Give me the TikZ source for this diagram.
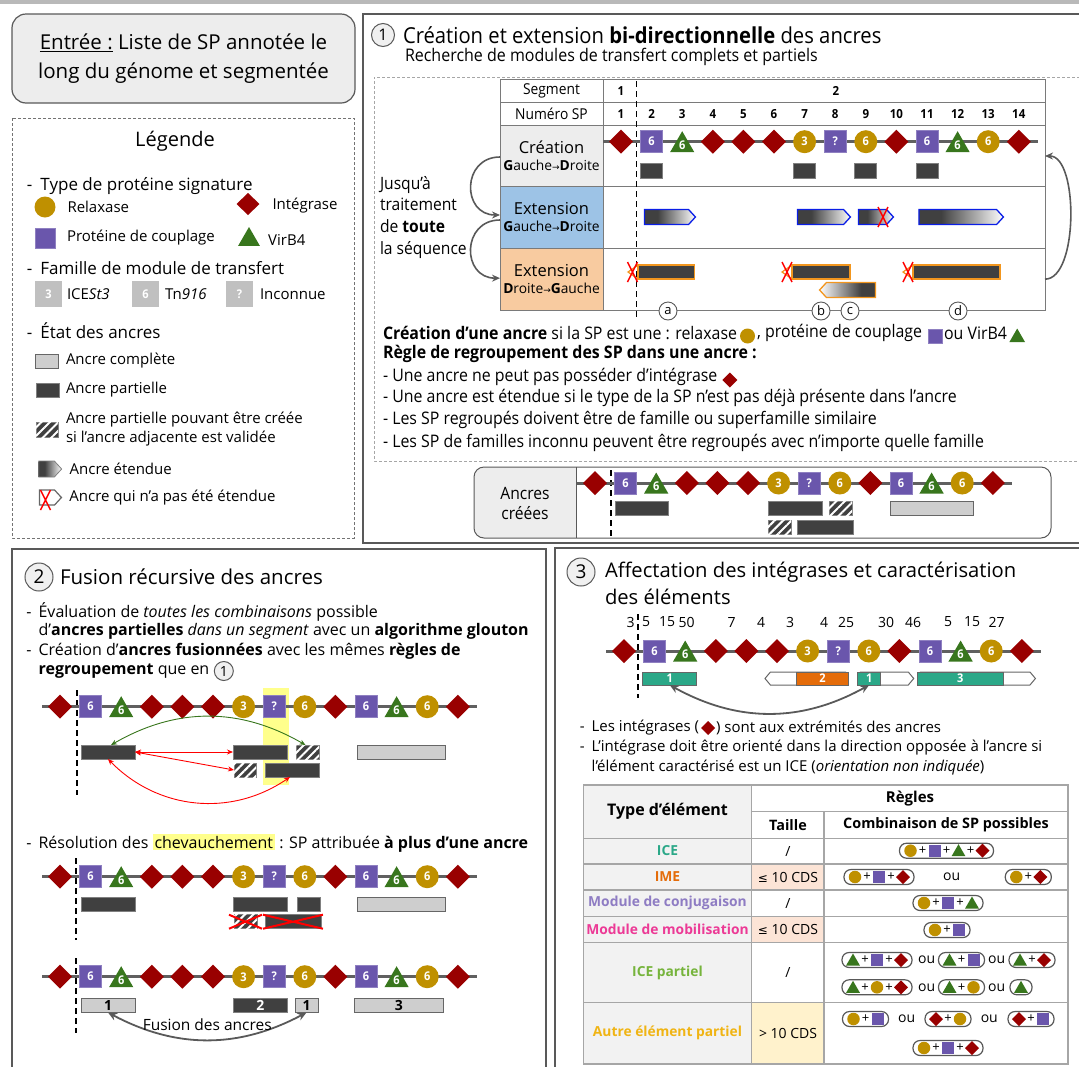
\documentclass[tikz,border=0pt]{standalone}
\usepackage{fontspec}
\setmainfont{Open Sans}
\newfontfamily\condf[FakeStretch=0.92]{Open Sans}
\newfontfamily\dvu{DejaVu Sans}
\usepackage{tikz}
\usetikzlibrary{positioning,arrows.meta,shapes.geometric,shapes.symbols,patterns.meta}

\definecolor{integred}{RGB}{153,0,0}
\definecolor{relaxgold}{RGB}{191,144,0}
\definecolor{couplpurple}{RGB}{106,86,172}
\definecolor{virbgreen}{RGB}{56,118,29}
\definecolor{anchdark}{RGB}{64,64,64}
\definecolor{anchlight}{RGB}{206,206,206}
\definecolor{framegray}{RGB}{89,89,89}
\definecolor{cellgray}{RGB}{237,237,237}
\definecolor{cellblue}{RGB}{157,195,230}
\definecolor{cellpeach}{RGB}{248,203,160}
\definecolor{extblue}{RGB}{10,30,230}
\definecolor{extorange}{RGB}{242,150,30}
\definecolor{hlyellow}{RGB}{255,255,140}
\definecolor{iceteal}{RGB}{43,168,136}
\definecolor{imeorange}{RGB}{228,108,10}
\definecolor{conjpurple}{RGB}{142,124,195}
\definecolor{mobpink}{RGB}{236,58,150}
\definecolor{partgreen}{RGB}{118,180,60}
\definecolor{autregold}{RGB}{240,180,20}
\definecolor{sizepeach}{RGB}{252,228,214}
\definecolor{sizeyellow}{RGB}{255,242,204}
\definecolor{famgray}{RGB}{192,192,192}
\definecolor{tabgray}{RGB}{242,242,242}

\pgfdeclarehorizontalshading{extshade}{100bp}{color(0bp)=(anchdark); color(38bp)=(anchdark); color(75bp)=(white); color(100bp)=(white)}
\pgfdeclarehorizontalshading{extshaderev}{100bp}{color(0bp)=(white); color(25bp)=(white); color(62bp)=(anchdark); color(100bp)=(anchdark)}

\newcommand{\fsz}[2]{\fontsize{#1}{#2}\selectfont}
\newcommand{\symf}{\condf\bfseries\fsz{12}{12}}
\newcommand{\spgap}{30.6}
\newcommand{\tiret}{\llap{-\hspace{7pt}}}

\newcommand{\genome}[3]{%
  \draw[genomeline] ({#2-18},#3) -- ({#2+13*\spgap+19},#3);
  \foreach \sty/\lab [count=\i] in {integ/,coupl/6,virb/6,integ/,integ/,integ/,relax/3,coupl/?,relax/6,integ/,coupl/6,virb/6,relax/6,integ/}
    \node[\sty] (#1\i) at ({#2+(\i-1)*\spgap},#3) {\lab};
}
\newcommand{\ancre}[6]{\node[#1, minimum width={#4-#3}] (#2) at ({(#3+#4)/2},#5) {#6};}
\newcommand{\redx}[2]{\draw[redcross] ({#1-5},{#2-10}) -- ({#1+5},{#2+10}) ({#1-5},{#2+10}) -- ({#1+5},{#2-10});}
\newcommand{\pill}[5]{%
  \node[pillbox, minimum width={22+(#4-1)*24}] (#1) at (#2,#3) {};
  \foreach \sty [count=\k] in {#5} {
    \node[m\sty] (#1s\k) at ({#2-(#4-1)*12+(\k-1)*24},#3) {};
    \ifnum\k>1
      \node[plussign] (#1p\k) at ({#2-(#4-1)*12+(\k-1)*24-12},#3) {+};
    \fi
  }%
}

\begin{document}
\begin{tikzpicture}[x=1pt, y=-1pt, node distance=8pt,
    every node/.style={inner sep=0pt, outer sep=0pt},
    frame/.style={draw=framegray, line width=1.2},
    dashframe/.style={draw=gray!90!black, line width=0.9, dash pattern=on 3pt off 2pt},
    genomeline/.style={draw=gray!75!black, line width=3},
    integ/.style={diamond, fill=integred, minimum width=24, minimum height=24},
    coupl/.style={rectangle, fill=couplpurple, draw=couplpurple!75!white, line width=0.6, minimum size=22, text=white, font=\symf},
    relax/.style={circle, fill=relaxgold, minimum size=23, text=white, font=\symf},
    virb/.style={regular polygon, regular polygon sides=3, fill=virbgreen, minimum size=28, yshift=-3.5pt, text=white, font=\symf},
    mC/.style={circle, fill=relaxgold, minimum size=12.5},
    mS/.style={rectangle, fill=couplpurple, minimum size=12},
    mT/.style={regular polygon, regular polygon sides=3, fill=virbgreen, minimum size=16, yshift=-1.5pt},
    mD/.style={diamond, fill=integred, minimum width=14, minimum height=14},
    pillbox/.style={rectangle, rounded corners=7pt, draw=gray!70!black, line width=1.2, fill=white, minimum height=15},
    plussign/.style={font=\fsz{13}{13}},
    partial/.style={rectangle, fill=anchdark, draw=gray, line width=0.8, minimum height=14},
    complete/.style={rectangle, fill=anchlight, draw=gray!80!black, line width=1, minimum height=14},
    hatch/.style={partial, postaction={pattern={Lines[angle=45,distance=6pt,line width=2pt]}, pattern color=white}},
    extGD/.style={signal, signal to=east, signal pointer angle=95, draw=extblue, line width=1.3, shade, shading=extshade, minimum height=15},
    extDG/.style={rectangle, fill=anchdark, draw=extorange, line width=1.3, minimum height=14},
    extDGrev/.style={signal, signal to=west, signal pointer angle=95, draw=extorange, line width=1.3, shade, shading=extshaderev, minimum height=15},
    extleg/.style={signal, signal to=east, signal pointer angle=95, draw=gray, line width=0.8, shade, shading=extshade, minimum height=16},
    notext/.style={signal, signal to=east, signal pointer angle=95, draw=gray!80!black, line width=1.2, fill=white, minimum height=15},
    openE/.style={signal, signal to=east, signal pointer angle=100, draw=gray!80!black, line width=1, fill=white, minimum height=13},
    openW/.style={openE, signal to=west},
    teal/.style={rectangle, fill=iceteal, draw=gray!80!black, line width=1, minimum height=13, text=white, font=\symf},
    imebar/.style={teal, fill=imeorange},
    failchev/.style={draw=extorange, line width=1.2},
    redcross/.style={draw=red, line width=1.5},
    cell/.style={rectangle, draw=framegray!80, line width=0.8, minimum width=103, align=center, font=\fsz{14}{16}},
    numf/.style={font=\condf\bfseries\fsz{12.5}{14}},
    lettre/.style={circle, draw=framegray, fill=white, line width=0.9, minimum size=18, font=\fsz{13}{13}},
    stepnum/.style={circle, draw=framegray, fill=gray!12, line width=1, minimum size=28, font=\fsz{19}{19}},
    cycle/.style={draw=gray!70!black, line width=1.6, -{Stealth[length=8pt, width=7pt]}},
    fusion/.style={draw=gray!70!black, line width=1.8, {Stealth[length=9pt, width=8pt]}-{Stealth[length=9pt, width=8pt]}},
    legsec/.style={anchor=west, font=\fsz{17}{20}},
    legtxt/.style={anchor=west, font=\fsz{15}{19}},
    txt1/.style={anchor=west, font=\condf\fsz{17.3}{20}},
    txt2/.style={anchor=west, font=\fsz{16}{19}},
    tabline/.style={draw=gray!70, line width=1.3},
    tabhead/.style={font=\bfseries\fsz{15}{17}},
    tabrow/.style={font=\bfseries\fsz{13.8}{16}},
    taille/.style={font=\fsz{14}{16}},
    ouf/.style={font=\fsz{14}{14}}]

\useasboundingbox (0,0) rectangle (1079,1066);
\clip (0,0) rectangle (1079,1066);
\fill[gray!55] (0,0) rectangle (1079,3.5);

% entree et legende
\node[draw=framegray, fill=gray!14, line width=1.2, rounded corners=14, minimum width=343, minimum height=89, align=center, font=\fsz{20.5}{29}] (entree) at (183.5,58.5) {\underline{Entrée :} Liste de SP annotée le\\long du génome et segmentée};

\draw[dashframe] (12,118) rectangle (354,538);
\node[font=\fsz{20}{24}] (legtitle) at (175,141) {Légende};
\node[legsec] (legtype) at (27,186) {-\hspace{8pt}Type de protéine signature};
\node[relax, minimum size=21] (lrelax) at (45,207) {};
\node[legtxt, right=12pt of lrelax] (lrelaxt) {Relaxase};
\node[integ, minimum width=23, minimum height=22] (linteg) at (248,204) {};
\node[legtxt, right=13pt of linteg, yshift=-2pt] (lintegt) {Intégrase};
\node[coupl, minimum size=20] (lcoupl) at (45,238) {};
\node[legtxt, right=12pt of lcoupl] (lcouplt) {Protéine de couplage};
\node[virb, minimum size=25] (lvirb) at (249,236) {};
\node[legtxt, right=12pt of lvirb] (lvirbt) {VirB4};

\node[legsec] (legfam) at (27,268) {-\hspace{8pt}Famille de module de transfert};
\node[rectangle, fill=famgray, minimum width=27, minimum height=26, text=white, font=\symf] (lf3) at (48.5,294) {3};
\node[legtxt, right=5pt of lf3] (lf3t) {ICE\textit{St3}};
\node[rectangle, fill=famgray, minimum width=27, minimum height=26, text=white, font=\symf] (lf6) at (145.5,294) {6};
\node[legtxt, right=6pt of lf6] (lf6t) {Tn\textit{916}};
\node[rectangle, fill=famgray, minimum width=27, minimum height=26, text=white, font=\symf] (lfq) at (239.5,294) {?};
\node[legtxt, right=7pt of lfq] (lfqt) {Inconnue};

\node[legsec] (legetat) at (27,331) {-\hspace{8pt}État des ancres};
\node[complete, minimum width=23] (lcomp) at (46.5,361) {};
\node[legtxt, right=8pt of lcomp] (lcompt) {Ancre complète};
\node[partial, minimum width=23] (lpart) at (47.5,390) {};
\node[legtxt, right=7pt of lpart] (lpartt) {Ancre partielle};
\node[hatch, minimum width=22, minimum height=15] (lhatch) at (47,429.5) {};
\node[legtxt, align=left, right=8pt of lhatch] (lhatcht) {Ancre partielle pouvant être créée\\si l’ancre adjacente est validée};
\node[extleg, minimum width=23] (lext) at (46.5,469) {};
\node[legtxt, right=8pt of lext] (lextt) {Ancre étendue};
\node[notext, minimum width=22] (lnot) at (47,497.5) {};
\node[legtxt, right=8pt of lnot] (lnott) {Ancre qui n’a pas été étendue};
\redx{45.5}{500}

% etape 1
\draw[frame] (1090,14) -- (363,14) -- (363,543) -- (1090,543);
\node[stepnum, minimum size=23, font=\fsz{16}{16}] (num1) at (383,35) {1};
\node[anchor=west, font=\condf\fsz{22}{25}] (titre1) at (403,35) {Création et extension \textbf{bi-directionnelle} des ancres};
\node[anchor=west, font=\condf\fsz{17.4}{20}] (soustitre1) at (405,57) {Recherche de modules de transfert complets et partiels};
\draw[dashframe, draw=gray!70] (1090,77) -- (374,77) -- (374,461) -- (1090,461);

\node[cell] (lblSeg) [minimum height=23.7] at (551.5,90.85) {\condf\fsz{15}{17}Segment};
\node[cell] (lblNum) [minimum height=22.6] at (551.5,114) {\condf\fsz{15}{17}Numéro SP};
\node[cell, fill=cellgray, minimum height=61.4] (lblCre) at (551.5,156) {{\fsz{16.5}{20}Création}\\[1pt]{\fsz{13.8}{15}\textbf{G}auche{\dvu\fsz{9}{9}→}\textbf{D}roite}};
\node[cell, fill=cellblue, minimum height=61.6] (lblGD) at (551.5,217.5) {{\fsz{16.5}{20}Extension}\\[1pt]{\fsz{13.8}{15}\textbf{G}auche{\dvu\fsz{9}{9}→}\textbf{D}roite}};
\node[cell, fill=cellpeach, minimum height=61.7] (lblDG) at (551.5,279.15) {{\fsz{16.5}{20}Extension}\\[1pt]{\fsz{13.8}{15}\textbf{D}roite{\dvu\fsz{9}{9}→}\textbf{G}auche}};
\node[draw=framegray!80, line width=0.8, minimum width=442, minimum height=231] (tabdata) at (824,194.5) {};
\foreach \yy in {102.7,125.3,186.7,248.3}
  \draw[draw=framegray!80, line width=0.8] (603,\yy) -- (1045,\yy);
\node[numf] (seg1) at (621,91) {1};
\node[numf] (seg2) at (836,91) {2};
\foreach \k in {1,...,14}
  \node[numf] (nsp\k) at ({621+(\k-1)*\spgap},114) {\k};
\draw[line width=1.7, dash pattern=on 6pt off 4pt] (636.5,81) -- (636.5,318);

\genome{c}{621}{141.7}
\foreach \k in {2,7,9,11}
  \node[partial, minimum width=22, minimum height=15] (cre\k) at ({621+(\k-1)*\spgap},170.5) {};

\ancre{extGD}{gda}{641}{692}{217}{}
\ancre{extGD}{gdb}{794}{847}{217}{}
\ancre{extGD}{gdc}{855}{890}{217}{}
\ancre{extGD}{gdd}{915.5}{1000}{217}{}
\redx{883}{217}

\ancre{extDG}{dga}{638}{694.5}{272}{}
\ancre{extDG}{dgb}{792}{850}{272}{}
\ancre{extDGrev}{dgc}{823}{879}{290}{}
\ancre{extDG}{dgd}{913}{1000}{272}{}
\foreach \n in {dga,dgb,dgd}
  \draw[failchev] (\n.north west) -- ++(-10,7) -- (\n.south west);
\redx{632.5}{272}
\redx{787}{272}
\redx{908}{272}

\foreach \lt/\xx in {a/668,b/821,c/850,d/958}
  \node[lettre] (let\lt) at (\xx,311) {\lt};

\draw[cycle] ([yshift=-1pt]lblCre.west) to[out=180, in=180, looseness=1.7] ([yshift=2.5pt]lblGD.west);
\draw[cycle] ([yshift=-2.5pt]lblGD.west) to[out=180, in=180, looseness=1.7] ([yshift=1pt]lblDG.west);
\draw[cycle] (tabdata.east |- lblDG.east) to[out=0, in=0, looseness=0.7] (tabdata.east |- lblCre.east);
\node[anchor=north west, align=left, font=\condf\fsz{17}{21.7}] (jusqua) at (380,176) {Jusqu’à\\traitement\\de \textbf{toute}\\la séquence};

\node[txt1] (r1a) at (383,333) {\textbf{Création d’une ancre} si la SP est une : relaxase};
\node[relax, minimum size=15, right=3pt of r1a, yshift=-3pt] (r1c) {};
\node[txt1, right=2pt of r1c, yshift=3pt] (r1b) {, protéine de couplage};
\node[coupl, minimum size=14, right=6pt of r1b, yshift=-3pt] (r1s) {};
\node[txt1, right=2pt of r1s, yshift=3pt] (r1d) {ou VirB4};
\node[virb, minimum size=18, right=5pt of r1d, yshift=-1pt] (r1t) {};
\node[txt1] (r2) at (383,354) {\textbf{Règle de regroupement des SP dans une ancre :}};
\node[txt1] (r3) at (383,377) {- Une ancre ne peut pas posséder d’intégrase};
\node[integ, minimum width=15, minimum height=15, right=5pt of r3, yshift=-3pt] (r3d) {};
\node[txt1] (r4) at (383,398) {- Une ancre est étendue si le type de la SP n’est pas déjà présente dans l’ancre};
\node[txt1] (r5) at (383,420) {- Les SP regroupés doivent être de famille ou superfamille similaire};
\node[txt1] (r6) at (383,443) {- Les SP de familles inconnu peuvent être regroupés avec n’importe quelle famille};

\begin{scope}
  \clip[rounded corners=10] (474,467) rectangle (1051,538);
  \fill[white] (474,467) rectangle (1051,538);
  \fill[cellgray] (474,467) rectangle (576,538);
\end{scope}
\draw[frame, line width=1, rounded corners=10] (474,467) rectangle (1051,538);
\draw[frame, line width=1] (576,467) -- (576,538);
\node[align=center, font=\condf\fsz{17}{20}] (ancrescr) at (525,503) {Ancres\\créées};
\draw[line width=1.7, dash pattern=on 6pt off 4pt] (611,470) -- (611,538);
\genome{r}{595}{483}
\ancre{partial}{cra1}{615}{668}{508.5}{}
\ancre{partial}{cra2}{768}{822}{508.5}{}
\ancre{hatch}{cra3}{829}{852}{508.5}{}
\ancre{complete}{cra4}{890}{973}{508.5}{}
\ancre{hatch}{cra5}{768}{791}{527}{}
\ancre{partial}{cra6}{797}{853}{527}{}

% etape 2
\draw[frame] (12,1090) -- (12,549) -- (546,549) -- (546,1090);
\node[stepnum] (num2) at (39,577) {2};
\node[anchor=west, font=\fsz{20.5}{24}] (titre2) at (60,577) {Fusion récursive des ancres};
\node[txt2] (s2l1) at (38.6,612) {\tiret Évaluation de \textit{toutes les combinaisons} possible};
\node[txt2] (s2l2) at (38.6,631.5) {d’\textbf{ancres partielles} \textit{dans un segment} avec un \textbf{algorithme glouton}};
\node[txt2] (s2l3) at (38.6,651) {\tiret Création d’\textbf{ancres fusionnées} avec les mêmes \textbf{règles de}};
\node[txt2] (s2l4) at (38.6,671) {\textbf{regroupement} que en};
\node[stepnum, minimum size=19, font=\fsz{14}{14}, right=5pt of s2l4] (s2ref) {1};

\fill[hlyellow] (262.5,688) rectangle (289,785);
\draw[line width=1.7, dash pattern=on 6pt off 4pt] (77,690) -- (77,795);
\genome{f}{60}{706.7}
\ancre{partial}{fa1}{81}{135}{752}{}
\ancre{partial}{fa2}{233}{287}{752}{}
\ancre{hatch}{fa3}{296}{319}{752}{}
\ancre{complete}{fa4}{357}{445}{752}{}
\ancre{hatch}{fa5}{234}{256}{770}{}
\ancre{partial}{fa6}{265}{319}{770}{}
\draw[virbgreen, line width=0.9, {Stealth[length=6pt,width=5pt]}-{Stealth[length=6pt,width=5pt]}] ([xshift=-2pt]fa3.north) to[bend right=30] ([xshift=3pt]fa1.north);
\draw[red, line width=0.9, {Stealth[length=6pt,width=5pt]}-{Stealth[length=6pt,width=5pt]}] (fa1.east) -- (fa2.west);
\draw[red, line width=0.9, {Stealth[length=6pt,width=5pt]}-{Stealth[length=6pt,width=5pt]}] (fa1.east) -- (fa5.west);
\draw[red, line width=0.9, {Stealth[length=6pt,width=5pt]}-{Stealth[length=6pt,width=5pt]}] (fa1.south) to[bend right=40] ([xshift=-2pt]fa6.south);

\node[txt2] (s2l5) at (38.6,843) {\tiret Résolution des {\setlength{\fboxsep}{2pt}\colorbox{hlyellow}{chevauchement}} : SP attribuée \textbf{à plus d’une ancre}};
\draw[line width=1.7, dash pattern=on 6pt off 4pt] (76,858) -- (76,940);
\genome{g}{60}{876.7}
\ancre{partial}{ga1}{81}{135}{904}{}
\ancre{partial}{ga2}{233}{287.5}{904}{}
\ancre{partial}{ga3}{297.5}{320}{904}{}
\ancre{complete}{ga4}{357}{445}{904}{}
\ancre{hatch}{ga5}{234}{257}{921.7}{}
\ancre{partial}{ga6}{265}{321}{921.7}{}
\draw[red, line width=2] ([xshift=-5pt]ga5.north west) -- ([xshift=5pt]ga5.south east) ([xshift=-5pt]ga5.south west) -- ([xshift=5pt]ga5.north east);
\draw[red, line width=2] ([xshift=-2pt]ga6.north west) -- ([xshift=2pt]ga6.south east) ([xshift=-2pt]ga6.south west) -- ([xshift=2pt]ga6.north east);

\draw[line width=1.7, dash pattern=on 6pt off 4pt] (76,958) -- (76,1033);
\genome{h}{60}{976.7}
\ancre{complete}{ha1}{81}{135}{1005.5}{\bfseries\fsz{14}{14}1}
\ancre{partial}{ha2}{233}{287.5}{1005.5}{\color{white}\bfseries\fsz{14}{14}2}
\ancre{complete}{ha3}{295}{318}{1005.5}{\bfseries\fsz{14}{14}1}
\ancre{complete}{ha4}{354.6}{443}{1005.5}{\bfseries\fsz{14}{14}3}
\draw[fusion] (ha1.south) to[bend right=28] node[midway, above=9pt, font=\fsz{15.5}{18}] (fuslab) {Fusion des ancres} (ha3.south);

% etape 3
\draw[frame] (555,1090) -- (555,548) -- (1090,548);
\node[stepnum] (num3) at (581,572) {3};
\node[anchor=west, font=\fsz{20.2}{24}] (titre3a) at (605,572) {Affectation des intégrases et caractérisation};
\node[anchor=west, font=\fsz{20.2}{24}] (titre3b) at (605,597) {des éléments};
\foreach \num/\xx [count=\k] in {3/630.7,5/646,15/667,50/686.7,7/731.7,4/761,3/790,4/824,25/846,30/886,46/913,5/948,15/972,27/996.7}
  \node[font=\fsz{14}{14}] (dist\k) at (\xx,622) {\num};
\draw[line width=1.7, dash pattern=on 6pt off 4pt] (637.7,614) -- (637.7,698);
\genome{e}{624}{651}
\ancre{teal}{ea1}{642.7}{696.7}{678.5}{1}
\ancre{openW}{ea2}{767.7}{848.3}{678.5}{}
\ancre{imebar}{ea2b}{796.7}{848.3}{678.5}{2}
\ancre{openE}{ea3}{857.7}{911}{678.5}{}
\ancre{teal}{ea3b}{857.7}{880.7}{678.5}{1}
\ancre{openE}{ea4}{917.7}{1032.7}{678.5}{}
\ancre{teal}{ea4b}{917.7}{1003}{678.5}{3}
\draw[fusion] (ea1.south) to[bend right=29] (ea3b.south);

\node[txt2, font=\fsz{15}{19}] (s3l1) at (591.7,728) {\tiret Les intégrases (};
\node[mD, right=2pt of s3l1] (s3d) {};
\node[txt2, font=\fsz{15}{19}, right=1pt of s3d] (s3l1b) {) sont aux extrémités des ancres};
\node[txt2, font=\fsz{15}{19}] (s3l2) at (591.7,748) {\tiret L’intégrase doit être orienté dans la direction opposée à l’ancre si};
\node[txt2, font=\fsz{15}{19}] (s3l3) at (591.7,768) {l’élément caractérisé est un ICE (\textit{orientation non indiquée})};

\fill[tabgray] (583.3,785) rectangle (751.7,1064);
\fill[sizepeach] (751.7,864) rectangle (824,890);
\fill[sizepeach] (751.7,916.7) rectangle (824,942.7);
\fill[sizeyellow] (751.7,1002.7) rectangle (824,1064);
\draw[tabline] (583.3,785) rectangle (1068,1064);
\draw[tabline] (751.7,785) -- (751.7,1064);
\draw[tabline] (824,811.7) -- (824,1064);
\draw[tabline] (751.7,811.7) -- (1068,811.7);
\foreach \yy in {838.3,864,890,916.7,942.7,1002.7}
  \draw[tabline] (583.3,\yy) -- (1068,\yy);
\node[tabhead, font=\bfseries\fsz{16}{18}] (htype) at (667.5,811.5) {Type d’élément};
\node[tabhead] (hregles) at (910,799) {Règles};
\node[tabhead, font=\bfseries\fsz{14.4}{16}] (htaille) at (788,825) {Taille};
\node[tabhead, font=\bfseries\fsz{14.4}{16}] (hcomb) at (946,825) {Combinaison de SP possibles};
\foreach \lab/\col/\yy [count=\r] in {ICE/iceteal/851,IME/imeorange/877,Module de conjugaison/conjpurple/903.3,Module de mobilisation/mobpink/929.7,ICE partiel/partgreen/972.7,Autre élément partiel/autregold/1033}
  \node[tabrow, text=\col] (row\r) at (667.5,\yy) {\lab};
\node[taille] (t1) at (788,851) {/};
\node[taille] (t2) at (788,877) {{\dvu\fsz{12}{12}≤} 10 CDS};
\node[taille] (t3) at (788,903.3) {/};
\node[taille] (t4) at (788,929.7) {{\dvu\fsz{12}{12}≤} 10 CDS};
\node[taille] (t5) at (788,972.7) {/};
\node[taille] (t6) at (788,1033) {> 10 CDS};

\pill{pa}{946.5}{850.7}{4}{C,S,T,D}
\pill{pb}{879}{877}{3}{C,S,D}
\node[ouf] (oub) at (951.7,877) {ou};
\pill{pc}{1028.3}{877}{2}{C,D}
\pill{pd}{948}{903}{3}{C,S,T}
\pill{pe}{947}{930}{2}{C,S}
\pill{pf}{877}{960}{3}{T,S,D}
\node[ouf] (ouf1) at (926.7,960) {ou};
\pill{pg}{961.5}{960}{2}{T,S}
\node[ouf] (ouf2) at (996.7,960) {ou};
\pill{ph}{1032}{960}{2}{T,D}
\pill{pi}{877}{987.3}{3}{T,C,D}
\node[ouf] (ouf3) at (926.7,987.3) {ou};
\pill{pj}{961.5}{987.3}{2}{T,C}
\node[ouf] (ouf4) at (996.7,987.3) {ou};
\pill{pk}{1021}{987.3}{1}{T}
\pill{pl}{865.5}{1019}{2}{C,S}
\node[ouf] (ouf5) at (906.7,1019) {ou};
\pill{pm}{948}{1019}{2}{D,C}
\node[ouf] (ouf6) at (989.3,1019) {ou};
\pill{pn}{1031}{1019}{2}{D,S}
\pill{po}{948}{1048}{3}{C,S,D}

\end{tikzpicture}
\end{document}
